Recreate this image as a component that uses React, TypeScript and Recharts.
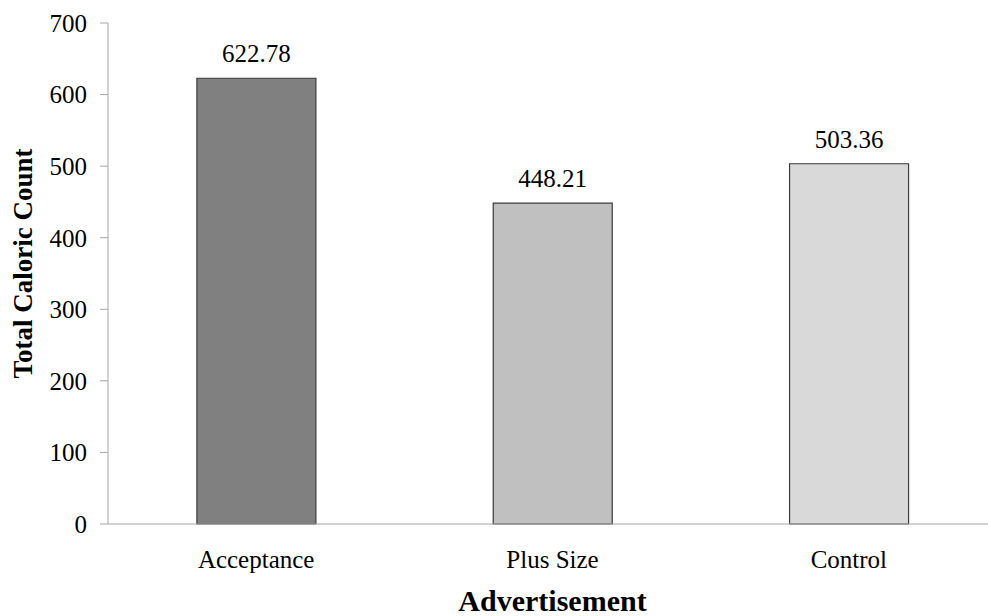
import React from 'react'
import { BarChart, Bar, XAxis, YAxis, Cell, LabelList } from 'recharts'

const categories = ['Acceptance', 'Plus Size', 'Control']
const calories = [622.78, 448.21, 503.36]
const barColors = ['#808080', '#c0c0c0', '#d9d9d9']
const yTicks = [0, 100, 200, 300, 400, 500, 600, 700]

const data = categories.map((name, i) => ({ name, value: calories[i] }))

const font = '"Liberation Serif", "Times New Roman", serif'

const XTick = ({ x, y, payload }: any) => (
  <text x={x} y={y + 36} textAnchor="middle" fill="#000" fontFamily={font} fontSize={25}>
    {payload.value}
  </text>
)

const App = () => {
  return (
    <div style={{ position: 'absolute', left: 0, top: 0, width: 988, height: 616, overflow: 'hidden', background: '#fff' }}>
      <BarChart
        width={1000}
        height={616}
        data={data}
        margin={{ top: 23, right: 3, bottom: 0, left: 0 }}
        barCategoryGap="30%"
      >
        <YAxis
          width={108}
          domain={[0, 700]}
          ticks={yTicks}
          interval={0}
          tickSize={8}
          tickMargin={13}
          stroke="#a6a6a6"
          tick={{ fill: '#000', fontFamily: font, fontSize: 25 }}
          label={{
            value: 'Total Caloric Count',
            angle: -90,
            position: 'insideLeft',
            dx: 17,
            dy: -10,
            style: { textAnchor: 'middle', fill: '#000', fontFamily: font, fontSize: 27, fontWeight: 'bold' },
          }}
        />
        <XAxis
          dataKey="name"
          height={92}
          tickLine={false}
          stroke="#a6a6a6"
          tick={<XTick />}
          label={{
            value: 'Advertisement',
            position: 'insideBottom',
            dy: 0,
            style: { fill: '#000', fontFamily: font, fontSize: 30, fontWeight: 'bold' },
          }}
        />
        <Bar dataKey="value" stroke="#3a3a3a" strokeWidth={1.2} isAnimationActive={false}>
          {data.map((d, i) => (
            <Cell key={d.name} fill={barColors[i]} />
          ))}
          <LabelList
            dataKey="value"
            position="top"
            offset={16}
            formatter={(v: any) => Number(v).toFixed(2)}
            style={{ fill: '#000', fontFamily: font, fontSize: 25 }}
          />
        </Bar>
      </BarChart>
    </div>
  )
}

export default App
